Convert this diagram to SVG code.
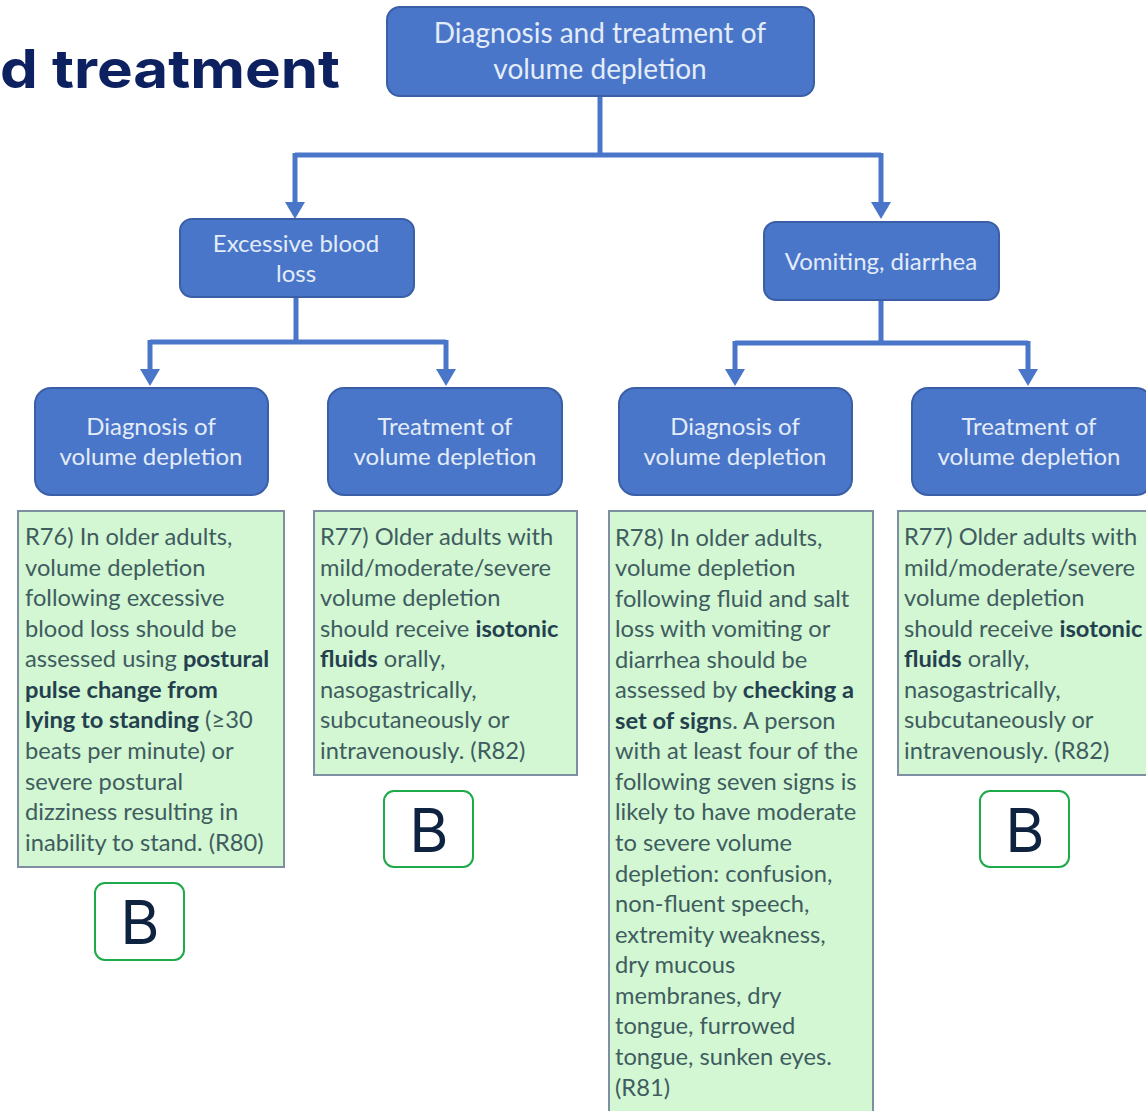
<svg xmlns="http://www.w3.org/2000/svg" width="1146" height="1111" viewBox="0 0 1146 1111">
  <style>
    .node rect { fill: #4a76c9; stroke: #3a5fa6; stroke-width: 2; }
    .node text { font-family: Lato, "Open Sans", sans-serif; font-size: 24px; fill: #e3ecf8; text-anchor: middle; }
    #root text { font-size: 28px; }
    .box rect { fill: #d2f7d2; stroke: #7d8fa0; stroke-width: 2; }
    .box text { font-family: Lato, "Open Sans", sans-serif; font-size: 23.7px; fill: #3f5c60; }
    .box tspan.b { font-weight: bold; fill: #24404f; }
    .grade rect { fill: #ffffff; stroke: #1faa4a; stroke-width: 2; }
    .grade text { font-family: Inter, "Liberation Sans", sans-serif; font-size: 60px; fill: #0e2340; text-anchor: middle; }
    .conn { fill: none; stroke: #4a76c9; stroke-width: 5; }
    .arrowhead { fill: #4a76c9; }
    .title { font-family: Inter, "Liberation Sans", sans-serif; font-weight: bold; font-size: 54px; fill: #0d2160; }
  </style>
  <rect width="1146" height="1111" fill="#ffffff"/>

  <text class="title" x="0" y="88" textLength="340" lengthAdjust="spacingAndGlyphs">d treatment</text>

  <!-- elbow connectors with downward arrowheads -->
  <g id="connectors">
    <path class="conn" d="M600,96 V155 M295,155 H881"/>
    <path class="conn" d="M295,153 V204"/>
    <path class="conn" d="M881,153 V204"/>
    <path class="conn" d="M296,297 V342 M150,342 H446"/>
    <path class="conn" d="M150,340 V371"/>
    <path class="conn" d="M446,340 V371"/>
    <path class="conn" d="M881,300 V343 M735,343 H1028"/>
    <path class="conn" d="M735,341 V371"/>
    <path class="conn" d="M1028,341 V371"/>
    <g class="arrowhead">
      <polygon points="285,202 305,202 295,219"/>
      <polygon points="871,202 891,202 881,219"/>
      <polygon points="140,369 160,369 150,386"/>
      <polygon points="436,369 456,369 446,386"/>
      <polygon points="725,369 745,369 735,386"/>
      <polygon points="1018,369 1038,369 1028,386"/>
    </g>
  </g>

  <g id="root" class="node">
    <rect x="387" y="7" width="427" height="89" rx="13"/>
    <text x="600" y="43">Diagnosis and treatment of</text>
    <text x="600" y="79">volume depletion</text>
  </g>

  <g id="blood" class="node">
    <rect x="180" y="219" width="234" height="78" rx="12"/>
    <text x="296" y="252">Excessive blood</text>
    <text x="296" y="282">loss</text>
  </g>

  <g id="vomit" class="node">
    <rect x="764" y="222" width="235" height="78" rx="12"/>
    <text x="881" y="270">Vomiting, diarrhea</text>
  </g>

  <g id="diag1" class="node">
    <rect x="35" y="388" width="233" height="107" rx="16"/>
    <text x="151" y="435">Diagnosis of</text>
    <text x="151" y="465">volume depletion</text>
  </g>

  <g id="treat1" class="node">
    <rect x="328" y="388" width="234" height="107" rx="16"/>
    <text x="445" y="435">Treatment of</text>
    <text x="445" y="465">volume depletion</text>
  </g>

  <g id="diag2" class="node">
    <rect x="619" y="388" width="233" height="107" rx="16"/>
    <text x="735" y="435">Diagnosis of</text>
    <text x="735" y="465">volume depletion</text>
  </g>

  <g id="treat2" class="node">
    <rect x="912" y="388" width="240" height="107" rx="16"/>
    <text x="1029" y="435">Treatment of</text>
    <text x="1029" y="465">volume depletion</text>
  </g>

  <g id="rec76" class="box">
    <rect x="18" y="511" width="266" height="356"/>
    <text x="25" y="545">R76) In older adults,</text>
    <text x="25" y="576">volume depletion</text>
    <text x="25" y="606">following excessive</text>
    <text x="25" y="637">blood loss should be</text>
    <text x="25" y="667">assessed using <tspan class="b">postural</tspan></text>
    <text x="25" y="698"><tspan class="b">pulse change from</tspan></text>
    <text x="25" y="728"><tspan class="b">lying to standing</tspan> (≥30</text>
    <text x="25" y="759">beats per minute) or</text>
    <text x="25" y="790">severe postural</text>
    <text x="25" y="820">dizziness resulting in</text>
    <text x="25" y="851">inability to stand. (R80)</text>
  </g>

  <g id="rec77a" class="box">
    <rect x="314" y="511" width="263" height="264"/>
    <text x="320" y="545">R77) Older adults with</text>
    <text x="320" y="576">mild/moderate/severe</text>
    <text x="320" y="606">volume depletion</text>
    <text x="320" y="637">should receive <tspan class="b">isotonic</tspan></text>
    <text x="320" y="667"><tspan class="b">fluids</tspan> orally,</text>
    <text x="320" y="698">nasogastrically,</text>
    <text x="320" y="728">subcutaneously or</text>
    <text x="320" y="759">intravenously. (R82)</text>
  </g>

  <g id="rec78" class="box">
    <rect x="609" y="511" width="264" height="610"/>
    <text x="615" y="546">R78) In older adults,</text>
    <text x="615" y="576">volume depletion</text>
    <text x="615" y="607">following fluid and salt</text>
    <text x="615" y="637">loss with vomiting or</text>
    <text x="615" y="668">diarrhea should be</text>
    <text x="615" y="698">assessed by <tspan class="b">checking a</tspan></text>
    <text x="615" y="729"><tspan class="b">set of sign</tspan>s. A person</text>
    <text x="615" y="759">with at least four of the</text>
    <text x="615" y="790">following seven signs is</text>
    <text x="615" y="820">likely to have moderate</text>
    <text x="615" y="851">to severe volume</text>
    <text x="615" y="882">depletion: confusion,</text>
    <text x="615" y="912">non-fluent speech,</text>
    <text x="615" y="943">extremity weakness,</text>
    <text x="615" y="973">dry mucous</text>
    <text x="615" y="1004">membranes, dry</text>
    <text x="615" y="1034">tongue, furrowed</text>
    <text x="615" y="1065">tongue, sunken eyes.</text>
    <text x="615" y="1096">(R81)</text>
  </g>

  <g id="rec77b" class="box">
    <rect x="898" y="511" width="260" height="264"/>
    <text x="904" y="545">R77) Older adults with</text>
    <text x="904" y="576">mild/moderate/severe</text>
    <text x="904" y="606">volume depletion</text>
    <text x="904" y="637">should receive <tspan class="b">isotonic</tspan></text>
    <text x="904" y="667"><tspan class="b">fluids</tspan> orally,</text>
    <text x="904" y="698">nasogastrically,</text>
    <text x="904" y="728">subcutaneously or</text>
    <text x="904" y="759">intravenously. (R82)</text>
  </g>

  <g id="gradeB1" class="grade">
    <rect x="95" y="883" width="89" height="77" rx="10"/>
    <text x="140" y="944">B</text>
  </g>
  <g id="gradeB2" class="grade">
    <rect x="384" y="791" width="89" height="76" rx="10"/>
    <text x="429" y="852">B</text>
  </g>
  <g id="gradeB3" class="grade">
    <rect x="980" y="791" width="89" height="76" rx="10"/>
    <text x="1025" y="852">B</text>
  </g>
</svg>
